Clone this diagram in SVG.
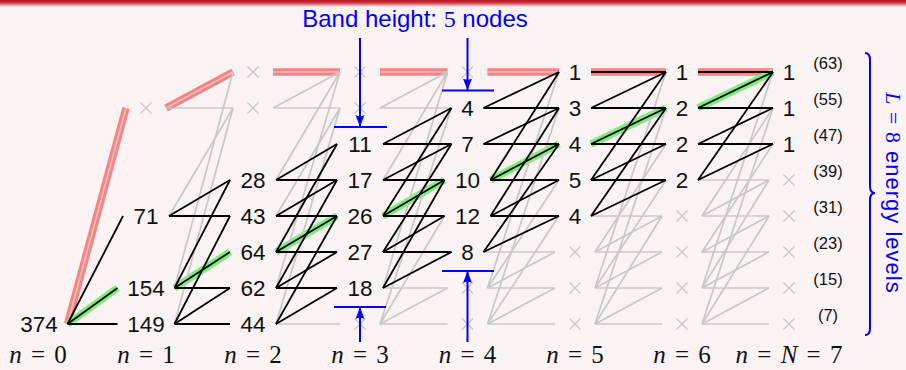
<svg xmlns="http://www.w3.org/2000/svg" xmlns:xlink="http://www.w3.org/1999/xlink" width="906" height="370" viewBox="0 0 906 370">
<defs>
<linearGradient id="topbar" x1="0" y1="0" x2="0" y2="1">
<stop offset="0" stop-color="#B8101C"/>
<stop offset="0.4" stop-color="#D03844"/>
<stop offset="1" stop-color="#FBF2F4"/>
</linearGradient>
<marker id="ah" markerUnits="userSpaceOnUse" markerWidth="12" markerHeight="10" viewBox="0 0 12 10" refX="12" refY="5" orient="auto">
<path d="M0,0.5 L12,5 L0,9.5 Q2.5,5 0,0.5 Z" fill="#0000FF"/>
</marker>
<path id="xm" d="M-5.5,-5.5 L5.5,5.5 M-5.5,5.5 L5.5,-5.5"/>
</defs>
<style>
.g{stroke:#C8C8C8;stroke-width:1.7;fill:none}
.b{stroke:#000;stroke-width:1.8;fill:none}
.hr{stroke:#FF8080;stroke-width:7.5;fill:none}
.hg{stroke:#7EEE7E;stroke-width:7.5;fill:none}
.x{stroke:#C8C8C8;stroke-width:1.3;fill:none}
.lbl{font-family:"Liberation Sans",Arial,sans-serif;font-size:22.5px;fill:#111;text-anchor:middle}
.nl{font-family:"Liberation Serif","Times New Roman",serif;font-size:25px;fill:#111;text-anchor:middle;word-spacing:3px}
.lv{font-family:"Liberation Sans",Arial,sans-serif;font-size:16.5px;fill:#111;text-anchor:middle}
.blue{stroke:#0000FF;stroke-width:2;fill:none}
.bt{font-family:"Liberation Sans",Arial,sans-serif;fill:#0000FF}
</style>
<rect x="0" y="0" width="906" height="370" fill="#FBF2F4"/>
<rect x="0" y="0" width="906" height="7" fill="url(#topbar)"/>

<g id="highlights">
<line class="hr" x1="67.5" y1="324" x2="126" y2="108"/>
<line class="hr" x1="166" y1="108" x2="233" y2="72"/>
<line class="hr" x1="273" y1="72" x2="340" y2="72"/>
<line class="hr" x1="380" y1="72" x2="447.5" y2="72"/>
<line class="hr" x1="487.5" y1="72" x2="559" y2="72"/>
<line class="hr" x1="591" y1="72" x2="666" y2="72"/>
<line class="hr" x1="698" y1="72" x2="773" y2="72"/>
<line class="hg" x1="67.5" y1="324" x2="117.5" y2="288"/>
<line class="hg" x1="174.5" y1="288" x2="230" y2="252"/>
<line class="hg" x1="276" y1="252" x2="337" y2="216"/>
<line class="hg" x1="383" y1="216" x2="444.5" y2="180"/>
<line class="hg" x1="490.5" y1="180" x2="559" y2="144"/>
<line class="hg" x1="591" y1="144" x2="666" y2="108"/>
<line class="hg" x1="698" y1="108" x2="773" y2="72"/>
</g>

<g id="connectors">
<!-- gray (excluded) edges -->
<line class="g" x1="67.5" y1="324" x2="126" y2="108"/>
<line class="g" x1="174.5" y1="324" x2="233" y2="108"/>
<line class="g" x1="174.5" y1="288" x2="233" y2="72"/>
<line class="g" x1="169" y1="216" x2="233" y2="108"/>
<line class="g" x1="166" y1="108" x2="233" y2="108"/>
<line class="g" x1="166" y1="108" x2="233" y2="72"/>
<line class="g" x1="276" y1="324" x2="340" y2="324"/>
<line class="g" x1="276" y1="324" x2="340" y2="108"/>
<line class="g" x1="276" y1="288" x2="340" y2="72"/>
<line class="g" x1="276" y1="216" x2="340" y2="108"/>
<line class="g" x1="276" y1="180" x2="340" y2="72"/>
<line class="g" x1="273" y1="108" x2="340" y2="108"/>
<line class="g" x1="273" y1="108" x2="340" y2="72"/>
<line class="g" x1="273" y1="72" x2="340" y2="72"/>
<line class="g" x1="380" y1="324" x2="447.5" y2="324"/>
<line class="g" x1="380" y1="324" x2="447.5" y2="288"/>
<line class="g" x1="380" y1="324" x2="444.5" y2="216"/>
<line class="g" x1="380" y1="324" x2="451.5" y2="108"/>
<line class="g" x1="383" y1="288" x2="447.5" y2="288"/>
<line class="g" x1="383" y1="288" x2="447.5" y2="72"/>
<line class="g" x1="383" y1="180" x2="447.5" y2="72"/>
<line class="g" x1="380" y1="108" x2="451.5" y2="108"/>
<line class="g" x1="380" y1="108" x2="447.5" y2="72"/>
<line class="g" x1="380" y1="72" x2="447.5" y2="72"/>
<line class="g" x1="487.5" y1="324" x2="555" y2="324"/>
<line class="g" x1="487.5" y1="324" x2="555" y2="288"/>
<line class="g" x1="487.5" y1="324" x2="559" y2="216"/>
<line class="g" x1="487.5" y1="324" x2="559" y2="108"/>
<line class="g" x1="487.5" y1="288" x2="555" y2="288"/>
<line class="g" x1="487.5" y1="288" x2="555" y2="252"/>
<line class="g" x1="487.5" y1="288" x2="559" y2="180"/>
<line class="g" x1="487.5" y1="288" x2="559" y2="72"/>
<line class="g" x1="483.5" y1="252" x2="555" y2="252"/>
<line class="g" x1="487.5" y1="72" x2="559" y2="72"/>
<line class="g" x1="595" y1="324" x2="662" y2="324"/>
<line class="g" x1="595" y1="324" x2="662" y2="288"/>
<line class="g" x1="595" y1="324" x2="662" y2="216"/>
<line class="g" x1="595" y1="324" x2="666" y2="108"/>
<line class="g" x1="595" y1="288" x2="662" y2="288"/>
<line class="g" x1="595" y1="288" x2="662" y2="252"/>
<line class="g" x1="595" y1="288" x2="666" y2="180"/>
<line class="g" x1="595" y1="288" x2="666" y2="72"/>
<line class="g" x1="595" y1="252" x2="662" y2="252"/>
<line class="g" x1="595" y1="252" x2="662" y2="216"/>
<line class="g" x1="595" y1="252" x2="666" y2="144"/>
<line class="g" x1="591" y1="216" x2="662" y2="216"/>
<line class="g" x1="702" y1="324" x2="769" y2="324"/>
<line class="g" x1="702" y1="324" x2="769" y2="288"/>
<line class="g" x1="702" y1="324" x2="769" y2="216"/>
<line class="g" x1="702" y1="324" x2="773" y2="108"/>
<line class="g" x1="702" y1="288" x2="769" y2="288"/>
<line class="g" x1="702" y1="288" x2="769" y2="252"/>
<line class="g" x1="702" y1="288" x2="769" y2="180"/>
<line class="g" x1="702" y1="288" x2="773" y2="72"/>
<line class="g" x1="702" y1="252" x2="769" y2="252"/>
<line class="g" x1="702" y1="252" x2="769" y2="216"/>
<line class="g" x1="702" y1="252" x2="773" y2="144"/>
<line class="g" x1="702" y1="216" x2="769" y2="216"/>
<line class="g" x1="702" y1="216" x2="769" y2="180"/>
<line class="g" x1="702" y1="216" x2="773" y2="108"/>
<line class="g" x1="698" y1="180" x2="769" y2="180"/>
<!-- black (in-band) edges -->
<line class="b" x1="67.5" y1="324" x2="117.5" y2="324"/>
<line class="b" x1="67.5" y1="324" x2="117.5" y2="288"/>
<line class="b" x1="67.5" y1="324" x2="123" y2="216"/>
<line class="b" x1="174.5" y1="324" x2="230" y2="324"/>
<line class="b" x1="174.5" y1="324" x2="230" y2="288"/>
<line class="b" x1="174.5" y1="324" x2="230" y2="216"/>
<line class="b" x1="174.5" y1="288" x2="230" y2="288"/>
<line class="b" x1="174.5" y1="288" x2="230" y2="252"/>
<line class="b" x1="174.5" y1="288" x2="230" y2="180"/>
<line class="b" x1="169" y1="216" x2="230" y2="216"/>
<line class="b" x1="169" y1="216" x2="230" y2="180"/>
<line class="b" x1="276" y1="324" x2="337" y2="288"/>
<line class="b" x1="276" y1="324" x2="337" y2="216"/>
<line class="b" x1="276" y1="288" x2="337" y2="288"/>
<line class="b" x1="276" y1="288" x2="337" y2="252"/>
<line class="b" x1="276" y1="288" x2="337" y2="180"/>
<line class="b" x1="276" y1="252" x2="337" y2="252"/>
<line class="b" x1="276" y1="252" x2="337" y2="216"/>
<line class="b" x1="276" y1="252" x2="337" y2="144"/>
<line class="b" x1="276" y1="216" x2="337" y2="216"/>
<line class="b" x1="276" y1="216" x2="337" y2="180"/>
<line class="b" x1="276" y1="180" x2="337" y2="180"/>
<line class="b" x1="276" y1="180" x2="337" y2="144"/>
<line class="b" x1="383" y1="288" x2="451.5" y2="252"/>
<line class="b" x1="383" y1="288" x2="444.5" y2="180"/>
<line class="b" x1="383" y1="252" x2="451.5" y2="252"/>
<line class="b" x1="383" y1="252" x2="444.5" y2="216"/>
<line class="b" x1="383" y1="252" x2="451.5" y2="144"/>
<line class="b" x1="383" y1="216" x2="444.5" y2="216"/>
<line class="b" x1="383" y1="216" x2="444.5" y2="180"/>
<line class="b" x1="383" y1="216" x2="451.5" y2="108"/>
<line class="b" x1="383" y1="180" x2="444.5" y2="180"/>
<line class="b" x1="383" y1="180" x2="451.5" y2="144"/>
<line class="b" x1="383" y1="144" x2="451.5" y2="144"/>
<line class="b" x1="383" y1="144" x2="451.5" y2="108"/>
<line class="b" x1="483.5" y1="252" x2="559" y2="216"/>
<line class="b" x1="483.5" y1="252" x2="559" y2="144"/>
<line class="b" x1="490.5" y1="216" x2="559" y2="216"/>
<line class="b" x1="490.5" y1="216" x2="559" y2="180"/>
<line class="b" x1="490.5" y1="216" x2="559" y2="108"/>
<line class="b" x1="490.5" y1="180" x2="559" y2="180"/>
<line class="b" x1="490.5" y1="180" x2="559" y2="144"/>
<line class="b" x1="490.5" y1="180" x2="559" y2="72"/>
<line class="b" x1="483.5" y1="144" x2="559" y2="144"/>
<line class="b" x1="483.5" y1="144" x2="559" y2="108"/>
<line class="b" x1="483.5" y1="108" x2="559" y2="108"/>
<line class="b" x1="483.5" y1="108" x2="559" y2="72"/>
<line class="b" x1="591" y1="216" x2="666" y2="180"/>
<line class="b" x1="591" y1="216" x2="666" y2="108"/>
<line class="b" x1="591" y1="180" x2="666" y2="180"/>
<line class="b" x1="591" y1="180" x2="666" y2="144"/>
<line class="b" x1="591" y1="180" x2="666" y2="72"/>
<line class="b" x1="591" y1="144" x2="666" y2="144"/>
<line class="b" x1="591" y1="144" x2="666" y2="108"/>
<line class="b" x1="591" y1="108" x2="666" y2="108"/>
<line class="b" x1="591" y1="108" x2="666" y2="72"/>
<line class="b" x1="591" y1="72" x2="666" y2="72"/>
<line class="b" x1="698" y1="180" x2="773" y2="144"/>
<line class="b" x1="698" y1="180" x2="773" y2="72"/>
<line class="b" x1="698" y1="144" x2="773" y2="144"/>
<line class="b" x1="698" y1="144" x2="773" y2="108"/>
<line class="b" x1="698" y1="108" x2="773" y2="108"/>
<line class="b" x1="698" y1="108" x2="773" y2="72"/>
<line class="b" x1="698" y1="72" x2="773" y2="72"/>
</g>

<!-- column n=0 -->
<g id="n0-r0"><text class="lbl" x="39" y="332">374</text></g>
<!-- column n=1 -->
<g id="n1-r0"><text class="lbl" x="146" y="332">149</text></g>
<g id="n1-r1"><text class="lbl" x="146" y="296">154</text></g>
<g id="n1-r3"><text class="lbl" x="146" y="224">71</text></g>
<g id="n1-r6"><use href="#xm" class="x" x="146" y="108"/></g>
<!-- column n=2 -->
<g id="n2-r0"><text class="lbl" x="253" y="332">44</text></g>
<g id="n2-r1"><text class="lbl" x="253" y="296">62</text></g>
<g id="n2-r2"><text class="lbl" x="253" y="260">64</text></g>
<g id="n2-r3"><text class="lbl" x="253" y="224">43</text></g>
<g id="n2-r4"><text class="lbl" x="253" y="188">28</text></g>
<g id="n2-r6"><use href="#xm" class="x" x="253" y="108"/></g>
<g id="n2-r7"><use href="#xm" class="x" x="253" y="72"/></g>
<!-- column n=3 -->
<g id="n3-r0"><use href="#xm" class="x" x="360" y="324"/></g>
<g id="n3-r1"><text class="lbl" x="360" y="296">18</text></g>
<g id="n3-r2"><text class="lbl" x="360" y="260">27</text></g>
<g id="n3-r3"><text class="lbl" x="360" y="224">26</text></g>
<g id="n3-r4"><text class="lbl" x="360" y="188">17</text></g>
<g id="n3-r5"><text class="lbl" x="360" y="152">11</text></g>
<g id="n3-r6"><use href="#xm" class="x" x="360" y="108"/></g>
<g id="n3-r7"><use href="#xm" class="x" x="360" y="72"/></g>
<!-- column n=4 -->
<g id="n4-r0"><use href="#xm" class="x" x="467.5" y="324"/></g>
<g id="n4-r1"><use href="#xm" class="x" x="467.5" y="288"/></g>
<g id="n4-r2"><text class="lbl" x="467.5" y="260">8</text></g>
<g id="n4-r3"><text class="lbl" x="467.5" y="224">12</text></g>
<g id="n4-r4"><text class="lbl" x="467.5" y="188">10</text></g>
<g id="n4-r5"><text class="lbl" x="467.5" y="152">7</text></g>
<g id="n4-r6"><text class="lbl" x="467.5" y="116">4</text></g>
<g id="n4-r7"><use href="#xm" class="x" x="467.5" y="72"/></g>
<!-- column n=5 -->
<g id="n5-r0"><use href="#xm" class="x" x="575" y="324"/></g>
<g id="n5-r1"><use href="#xm" class="x" x="575" y="288"/></g>
<g id="n5-r2"><use href="#xm" class="x" x="575" y="252"/></g>
<g id="n5-r3"><text class="lbl" x="575" y="224">4</text></g>
<g id="n5-r4"><text class="lbl" x="575" y="188">5</text></g>
<g id="n5-r5"><text class="lbl" x="575" y="152">4</text></g>
<g id="n5-r6"><text class="lbl" x="575" y="116">3</text></g>
<g id="n5-r7"><text class="lbl" x="575" y="80">1</text></g>
<!-- column n=6 -->
<g id="n6-r0"><use href="#xm" class="x" x="682" y="324"/></g>
<g id="n6-r1"><use href="#xm" class="x" x="682" y="288"/></g>
<g id="n6-r2"><use href="#xm" class="x" x="682" y="252"/></g>
<g id="n6-r3"><use href="#xm" class="x" x="682" y="216"/></g>
<g id="n6-r4"><text class="lbl" x="682" y="188">2</text></g>
<g id="n6-r5"><text class="lbl" x="682" y="152">2</text></g>
<g id="n6-r6"><text class="lbl" x="682" y="116">2</text></g>
<g id="n6-r7"><text class="lbl" x="682" y="80">1</text></g>
<!-- column n=7 -->
<g id="n7-r0"><use href="#xm" class="x" x="789" y="324"/></g>
<g id="n7-r1"><use href="#xm" class="x" x="789" y="288"/></g>
<g id="n7-r2"><use href="#xm" class="x" x="789" y="252"/></g>
<g id="n7-r3"><use href="#xm" class="x" x="789" y="216"/></g>
<g id="n7-r4"><use href="#xm" class="x" x="789" y="180"/></g>
<g id="n7-r5"><text class="lbl" x="789" y="152">1</text></g>
<g id="n7-r6"><text class="lbl" x="789" y="116">1</text></g>
<g id="n7-r7"><text class="lbl" x="789" y="80">1</text></g>

<g id="stage-labels">
<text class="nl" x="38" y="363"><tspan font-style="italic">n</tspan> = 0</text>
<text class="nl" x="146" y="363"><tspan font-style="italic">n</tspan> = 1</text>
<text class="nl" x="253" y="363"><tspan font-style="italic">n</tspan> = 2</text>
<text class="nl" x="360" y="363"><tspan font-style="italic">n</tspan> = 3</text>
<text class="nl" x="467.5" y="363"><tspan font-style="italic">n</tspan> = 4</text>
<text class="nl" x="575" y="363"><tspan font-style="italic">n</tspan> = 5</text>
<text class="nl" x="682" y="363"><tspan font-style="italic">n</tspan> = 6</text>
<text class="nl" x="789" y="363"><tspan font-style="italic">n</tspan> = <tspan font-style="italic">N</tspan> = 7</text>
</g>

<g id="level-labels">
<text class="lv" x="828" y="69">(63)</text>
<text class="lv" x="828" y="105">(55)</text>
<text class="lv" x="828" y="141">(47)</text>
<text class="lv" x="828" y="177">(39)</text>
<text class="lv" x="828" y="213">(31)</text>
<text class="lv" x="828" y="249">(23)</text>
<text class="lv" x="828" y="285">(15)</text>
<text class="lv" x="828" y="321">(7)</text>
</g>

<g id="band-annotation">
<text class="bt" x="415" y="27" font-size="24" text-anchor="middle">Band height: <tspan font-family="'Liberation Serif','Times New Roman',serif">5</tspan> nodes</text>
<line class="blue" x1="360" y1="38" x2="360" y2="127" marker-end="url(#ah)"/>
<line class="blue" x1="334" y1="127" x2="387" y2="127"/>
<line class="blue" x1="467.5" y1="38" x2="467.5" y2="90.5" marker-end="url(#ah)"/>
<line class="blue" x1="442" y1="90.5" x2="494" y2="90.5"/>
<line class="blue" x1="360" y1="342" x2="360" y2="307" marker-end="url(#ah)"/>
<line class="blue" x1="334" y1="307" x2="386" y2="307"/>
<line class="blue" x1="467.5" y1="342" x2="467.5" y2="271" marker-end="url(#ah)"/>
<line class="blue" x1="442" y1="271" x2="494" y2="271"/>
</g>

<g id="energy-brace">
<path class="blue" stroke-width="1.8" d="M865,53 Q870,53 870,60 L870,186 Q870,193 875,193 Q870,193 870,200 L870,328 Q870,335 865,335"/>
<text class="bt" font-size="22" letter-spacing="1" text-anchor="middle" transform="translate(886,193) rotate(90)"><tspan font-family="'Liberation Serif','Times New Roman',serif" font-style="italic">L</tspan><tspan font-family="'Liberation Serif','Times New Roman',serif"> = 8</tspan> energy levels</text>
</g>
</svg>
